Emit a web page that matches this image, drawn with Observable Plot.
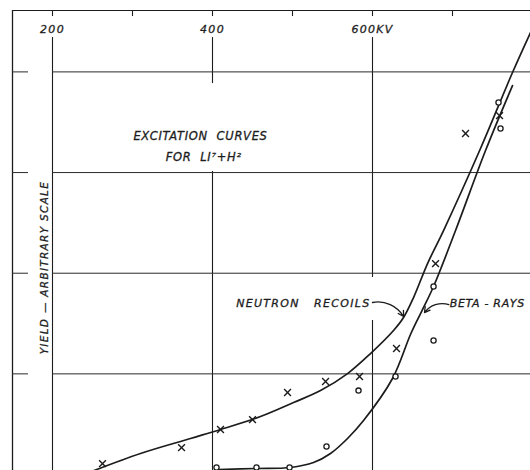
<!DOCTYPE html>
<html><head><meta charset="utf-8">
<script src="https://cdn.jsdelivr.net/npm/d3@7"></script>
<script src="https://cdn.jsdelivr.net/npm/@observablehq/plot@0.6"></script>
<style>
body{margin:0;background:#fff}
#chart .ls-wide text{letter-spacing:1.3px}
#chart .ls-title text{letter-spacing:0.7px}
#chart .ls-beta text{letter-spacing:0.7px}
</style>
</head><body><div id="chart"></div>
<script>
// ---- data (KV on x, yield in arbitrary units on y) ----
const neutronCurveKV    = [232.5, 310, 372.5, 410, 460, 501.3, 535, 568.8, 597.5, 626.3, 638.8, 651.3, 668.8, 688.8, 735, 775, 797.5];
const neutronCurveYield = [-0.02, 0.209, 0.358, 0.447, 0.576, 0.715, 0.834, 1.003, 1.202, 1.431, 1.560, 1.758, 2.096, 2.424, 3.239, 3.994, 4.391];
const betaCurveKV       = [407.5, 455, 497.5, 526.3, 547.5, 568.8, 588.8, 625, 647.5, 661.3, 676.3, 703.8, 741.3, 775];
const betaCurveYield    = [0.050, 0.060, 0.070, 0.119, 0.209, 0.358, 0.536, 0.954, 1.391, 1.619, 1.868, 2.424, 3.219, 3.864];
const neutronPointKV    = [262.5, 361.3, 410, 450, 493.8, 541.3, 583.8, 630, 678.8, 716.3, 758.8];
const neutronPointYield = [0.109, 0.268, 0.447, 0.546, 0.815, 0.924, 0.974, 1.252, 2.096, 3.388, 3.566];
const betaPointKV       = [307.5, 360, 405, 455, 496.3, 542.5, 582.5, 628.8, 676.3, 676.3, 757.5, 760];
const betaPointYield    = [0.00, -0.01, 0.07, 0.07, 0.07, 0.278, 0.834, 0.974, 1.331, 1.868, 3.696, 3.437];
const majorKV     = [200, 400, 600];
const majorLabels = ["200", "400", "600KV"];
const minorKV     = [300, 500, 700];
const gridYield   = [1, 2, 3, 4];
const titleLines  = ["EXCITATION\u00a0\u00a0CURVES", "FOR\u00a0\u00a0LI⁷+H²"];
const yLabel      = "YIELD — ARBITRARY SCALE";
const curveLabels = ["NEUTRON\u00a0\u00a0\u00a0RECOILS", "BETA - RAYS"];

// ---- layout helpers built from the arrays ----
const ink = "#1c1c1c";
const topY = 4.61, bottomY = -0.2, labelTop = 4.341;
const vSegs = [
  {kv: 200, y1: labelTop, y2: bottomY},
  {kv: 400, y1: labelTop, y2: 3.884}, {kv: 400, y1: 3.010, y2: bottomY},
  {kv: 600, y1: labelTop, y2: 1.957}, {kv: 600, y1: 1.530, y2: bottomY}
];
const ticks = [...majorKV, ...minorKV].map(kv => ({kv, y1: topY, y2: 4.55}));
const hSegs = gridYield.flatMap(y => [{y, x1: 150, x2: 170}, {y, x1: 200, x2: 800}]);
const neutronCurve = neutronCurveKV.map((kv, i) => ({kv, y: neutronCurveYield[i]}));
const betaCurve = betaCurveKV.map((kv, i) => ({kv, y: betaCurveYield[i]}));
const neutronPts = neutronPointKV.map((kv, i) => ({kv, y: neutronPointYield[i]}));
const betaPts = betaPointKV.map((kv, i) => ({kv, y: betaPointYield[i]}));
const tickLabels = majorKV.map((kv, i) => ({kv, text: majorLabels[i]}));
const titles = titleLines.map((t, i) => ({t, kv: [385, 389][i], y: [3.358, 3.149][i]}));
const arrows = [
  {x1: 600, y1: 1.709, x2: 638.8, y2: 1.570},
  {x1: 695.5, y1: 1.689, x2: 665, y2: 1.609}
];

const txt = {fontFamily: "DejaVu Sans", fontStyle: "italic", fill: ink, stroke: ink, strokeWidth: 0.3};

const chart = Plot.plot({
  width: 530, height: 470,
  marginLeft: 12, marginRight: 0, marginTop: 10, marginBottom: 0,
  x: {domain: [150, 797.5], axis: null},
  y: {domain: [0.04, topY], axis: null},
  style: {background: "#fff", overflow: "visible", fontFamily: "DejaVu Sans"},
  marks: [
    Plot.ruleX([150], {y1: topY, y2: bottomY, stroke: ink, strokeWidth: 1.3}),
    Plot.ruleY([topY], {x1: 150, x2: 800, stroke: ink, strokeWidth: 1.2}),
    Plot.ruleX(vSegs, {x: "kv", y1: "y1", y2: "y2", stroke: ink, strokeWidth: 1.1}),
    Plot.ruleX(ticks, {x: "kv", y1: "y1", y2: "y2", stroke: ink, strokeWidth: 1.1}),
    Plot.ruleY(hSegs, {y: "y", x1: "x1", x2: "x2", stroke: "#2a2a2a", strokeWidth: 1}),
    Plot.line(neutronCurve, {x: "kv", y: "y", curve: "catmull-rom", stroke: ink, strokeWidth: 1.7}),
    Plot.line(betaCurve, {x: "kv", y: "y", curve: "catmull-rom", stroke: ink, strokeWidth: 1.7}),
    Plot.dot(neutronPts, {x: "kv", y: "y", symbol: "times", r: 3.2, stroke: ink, strokeWidth: 1.4}),
    Plot.dot(betaPts, {x: "kv", y: "y", symbol: "circle", r: 2.6, fill: "#fff", stroke: ink, strokeWidth: 1.3}),
    Plot.arrow(arrows.slice(0, 1), {x1: "x1", y1: "y1", x2: "x2", y2: "y2", bend: 35, headLength: 7, stroke: ink, strokeWidth: 1.3}),
    Plot.arrow(arrows.slice(1), {x1: "x1", y1: "y1", x2: "x2", y2: "y2", bend: -35, headLength: 7, stroke: ink, strokeWidth: 1.3}),
    Plot.text(tickLabels, {x: "kv", y: 4.421, text: "text", fontSize: 11, className: "ls-wide", ...txt}),
    Plot.text(titles, {x: "kv", y: "y", text: "t", fontSize: 11.5, className: "ls-title", ...txt}),
    Plot.text([yLabel], {x: 190, y: 2.056, text: d => d, rotate: -90, fontSize: 10.5, className: "ls-wide", ...txt}),
    Plot.text([curveLabels[0]], {x: 597.5, y: 1.699, text: d => d, textAnchor: "end", fontSize: 11, className: "ls-wide", ...txt}),
    Plot.text([curveLabels[1]], {x: 696.5, y: 1.699, text: d => d, textAnchor: "start", fontSize: 11, className: "ls-beta", ...txt})
  ]
});
document.getElementById("chart").append(chart);
</script>
</body></html>
